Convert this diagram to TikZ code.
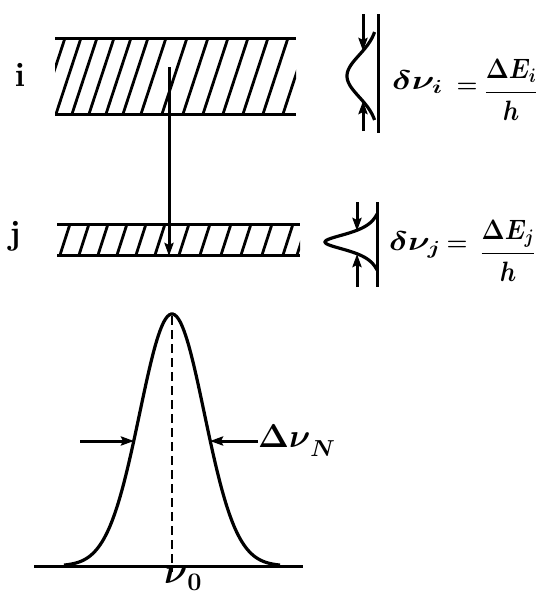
\RequirePackage{fix-cm}
\documentclass[tikz,border=0pt]{standalone}
\usetikzlibrary{arrows.meta}
\begin{document}
\begin{tikzpicture}[x=1pt,y=-1pt,
  ln/.style={line width=3pt},
  hatchline/.style={line width=2.8pt},
  curveline/.style={line width=3.2pt},
  tipped/.style={-{Stealth[length=13pt,width=9pt,inset=2pt]}},
  lbl/.style={inner sep=0pt, font=\fontsize{34}{38}\selectfont\bfseries},
  formula/.style={inner sep=0pt, font=\fontsize{27}{31}\selectfont\boldmath},
  fracstyle/.style={inner sep=0pt, font=\fontsize{28}{32}\selectfont\boldmath},
  eqsign/.style={inner sep=0pt, font=\fontsize{24}{28}\selectfont\boldmath}]
\useasboundingbox (0,0) rectangle (540,595);

% ---- band i ----
\coordinate (iTL) at (55,38);  \coordinate (iTR) at (296,38);
\coordinate (iBL) at (55,114); \coordinate (iBR) at (296,114);
\draw[ln] (iTL) -- (iTR);
\draw[ln] (iBL) -- (iBR);
\begin{scope}
  \clip (55,38) rectangle (296,114);
  \foreach \b in {40,56,72,89,106,123,141,162,183,203,223,243,263,283}
    \draw[hatchline] (\b,114) -- ({\b+25},38);
\end{scope}

% ---- band j ----
\coordinate (jTL) at (57,224);  \coordinate (jTR) at (300,224);
\coordinate (jBL) at (57,255);  \coordinate (jBR) at (300,255);
\draw[ln] (jTL) -- (jTR);
\draw[ln] (jBL) -- (jBR);
\begin{scope}
  \clip (57,224) rectangle (300,255);
  \foreach \b in {60,79,98,117,136,155,179,200,221,241,262,283,297}
    \draw[hatchline] (\b,255) -- ({\b+10},224);
\end{scope}

% labels i, j
\node[lbl] (li) at (20,75) {i};
\node[lbl] (lj) at (15,236) {j};

% transition arrow
\coordinate (tA) at (169,67);
\coordinate (tB) at (169,256);
\draw[ln,tipped] (tA) -- (tB);

% ---- line shape i ----
\coordinate (siT) at (378,14); \coordinate (siB) at (378,133);
\draw[ln] (siT) -- (siB);
\coordinate (aiT) at (363,14); \coordinate (aiTt) at (363,51);
\coordinate (aiB) at (363,131); \coordinate (aiBt) at (363,101);
\draw[ln,tipped] (aiT) -- (aiTt);
\draw[ln,tipped] (aiB) -- (aiBt);
\draw[curveline] plot[domain=-44:44,samples=70,smooth]
  ({378-31*exp(-0.5*(\x/21)*(\x/21))},{76+\x});

% ---- line shape j ----
\coordinate (sjT) at (377,202); \coordinate (sjB) at (377,287);
\draw[ln] (sjT) -- (sjB);
\coordinate (ajT) at (357,202); \coordinate (ajTt) at (357,231);
\coordinate (ajB) at (357,287); \coordinate (ajBt) at (357,254);
\draw[ln,tipped] (ajT) -- (ajTt);
\draw[ln,tipped] (ajB) -- (ajBt);
\draw[curveline] plot[domain=-28:28,samples=90,smooth]
  ({377-52*(1/(1+(\x/11)*(\x/11))-0.1337)/0.8663},{242+\x});

% formulas
\node[formula,anchor=base west] (dni) at (392,89)
  {\scalebox{1.3}[1]{$\delta\nu_i$}};
\node[eqsign] (eqi) at (467,88) {$=$};
\node[fracstyle] (fri) at (511,90) {\scalebox{0.88}[1]{$\displaystyle\frac{\Delta E_i}{h}$}};

\node[formula,anchor=base west] (dnj) at (389,250)
  {\scalebox{1.25}[1]{$\delta\nu_j$}};
\node[eqsign] (eqj) at (457,246) {$=$};
\node[fracstyle] (frj) at (508,251) {\scalebox{0.88}[1]{$\displaystyle\frac{\Delta E_j}{h}$}};

% ---- natural line profile ----
\coordinate (gL) at (34,566); \coordinate (gR) at (303,566);
\draw[ln] (gL) -- (gR);
\draw[curveline] plot[domain=-108:108,samples=120,smooth]
  ({172+\x},{566-252*exp(-0.5*(\x/32.3)*(\x/32.3))});
\coordinate (pk) at (172,316);
\coordinate (pkB) at (172,572);
\draw[line width=2.4pt,dash pattern=on 9pt off 5pt] (pk) -- (pkB);

\coordinate (hmL) at (134,441);
\coordinate (hmR) at (210,441);
\coordinate (aL) at (80,441);
\draw[ln,tipped] (aL) -- (hmL);
\node[inner sep=0pt,anchor=west,font=\fontsize{33}{37}\selectfont\boldmath] (dn) at (258,441)
  {$\Delta\nu\lower9pt\hbox{$\scriptstyle N$}$};
\draw[ln,tipped] (dn.west) -- (hmR);

\node[inner sep=0pt,anchor=base west,font=\fontsize{36}{40}\selectfont\boldmath] (nu0) at (164,583)
  {$\nu\lower7pt\hbox{$\scriptstyle 0$}$};
\end{tikzpicture}
\end{document}
